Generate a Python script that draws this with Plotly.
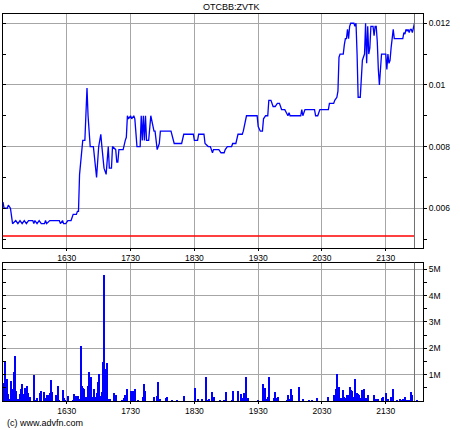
import plotly.graph_objects as go

# ---- data ----
title_text = "OTCBB:ZVTK"
prev_close = 0.0051
session_end = 1317  # minutes after midnight

price_time = [930,931,934,935,937,939,942,944,946,948,950,952,954,958,959,960,962,964,966,969,970,971,974,983,984,986,987,989,991,994,996,999,1000,1001,1002,1005,1007,1009,1010,1012,1015,1018,1020,1022,1023,1025,1027,1029,1030,1032,1033,1036,1037,1038,1039,1043,1045,1046,1047,1048,1050,1051,1053,1054,1056,1059,1060,1061,1062,1063,1064,1065,1067,1069,1072,1073,1075,1077,1078,1088,1091,1098,1100,1109,1110,1113,1114,1119,1120,1123,1125,1127,1128,1133,1135,1138,1139,1141,1145,1146,1149,1151,1155,1156,1159,1169,1170,1172,1174,1175,1177,1179,1180,1182,1184,1186,1188,1190,1192,1195,1198,1199,1200,1210,1211,1212,1214,1223,1224,1226,1228,1236,1237,1241,1242,1244,1245,1246,1247,1250,1251,1252,1253,1254,1255,1256,1257,1260,1261,1262,1263,1264,1266,1267,1268,1270,1271,1272,1273,1274,1275,1276,1278,1279,1280,1281,1282,1283,1284,1286,1290,1291,1292,1293,1294,1295,1296,1297,1298,1306,1307,1308,1309,1310,1311,1312,1313,1314,1315,1316,1317]
price = [0.0062,0.0060,0.0060,0.0061,0.0060,0.0055,0.0056,0.0055,0.0056,0.0055,0.0056,0.0055,0.0056,0.0056,0.0055,0.0056,0.0055,0.0056,0.0055,0.0055,0.0056,0.0055,0.0056,0.0056,0.0055,0.0056,0.0055,0.0055,0.0056,0.0056,0.0058,0.0058,0.0059,0.0059,0.0071,0.0082,0.0082,0.0099,0.0090,0.0080,0.0080,0.0070,0.0080,0.0084,0.0080,0.0073,0.0071,0.0080,0.0073,0.0073,0.0080,0.0079,0.0075,0.0075,0.0079,0.0079,0.0082,0.0083,0.0090,0.0089,0.0090,0.0089,0.0090,0.0089,0.0080,0.0080,0.0090,0.0082,0.0090,0.0082,0.0090,0.0082,0.0082,0.0090,0.0085,0.0085,0.0079,0.0081,0.0085,0.0085,0.0081,0.0081,0.0084,0.0084,0.0082,0.0082,0.0084,0.0084,0.0081,0.0080,0.0080,0.0078,0.0079,0.0079,0.0078,0.0078,0.0079,0.0080,0.0080,0.0081,0.0081,0.0084,0.0084,0.0085,0.0090,0.0090,0.00865,0.0085,0.0085,0.0089,0.0090,0.0090,0.0095,0.0095,0.0093,0.0093,0.0094,0.0094,0.0092,0.0092,0.0090,0.0091,0.0090,0.0090,0.0092,0.0090,0.0092,0.0092,0.0090,0.0090,0.0092,0.0092,0.0094,0.0094,0.0095,0.0096,0.0098,0.0109,0.0110,0.0110,0.0113,0.0115,0.0115,0.0118,0.0115,0.0119,0.0120,0.0120,0.0119,0.0120,0.0110,0.0096,0.0096,0.0105,0.0108,0.0110,0.0120,0.0107,0.0119,0.0110,0.0112,0.0119,0.0119,0.0116,0.0119,0.0119,0.0114,0.0105,0.0100,0.0110,0.0110,0.0105,0.0110,0.0107,0.0108,0.0112,0.0115,0.0118,0.0115,0.0115,0.0117,0.01165,0.0118,0.01175,0.0118,0.0117,0.0118,0.0118,0.0117,0.0119,0.0120]

vol_time = [931,932,933,934,935,937,938,939,940,941,942,943,944,945,946,947,948,949,950,951,952,953,954,955,959,961,962,965,966,969,970,971,972,973,974,975,976,980,982,983,986,987,988,991,996,997,999,1000,1001,1002,1003,1004,1005,1006,1007,1008,1009,1010,1011,1012,1013,1014,1015,1016,1017,1018,1019,1020,1021,1023,1024,1025,1026,1027,1028,1029,1030,1031,1034,1036,1042,1044,1045,1047,1050,1051,1052,1053,1054,1057,1062,1063,1064,1072,1075,1076,1078,1083,1084,1089,1094,1100,1111,1113,1117,1121,1122,1124,1127,1128,1134,1138,1140,1145,1146,1151,1154,1155,1157,1158,1159,1160,1170,1175,1176,1177,1178,1179,1180,1185,1186,1187,1189,1197,1198,1200,1201,1202,1208,1212,1218,1221,1225,1236,1241,1243,1244,1245,1246,1247,1249,1250,1251,1253,1254,1255,1256,1257,1258,1259,1260,1261,1262,1263,1264,1265,1267,1268,1270,1271,1273,1279,1280,1281,1282,1283,1286,1287,1290,1291,1292,1295,1296,1297,1301,1303,1305,1306,1308,1309,1310,1311,1312,1313,1314,1315,1319]
volume_m = [0.69,1.52,0.46,0.86,0.28,0.10,0.76,0.48,1.12,1.73,0.38,0.08,0.08,0.08,0.28,0.46,0.66,0.28,0.15,0.51,0.15,0.58,0.33,0.15,0.99,0.05,0.13,0.30,0.38,0.36,0.13,0.23,0.23,0.23,0.30,0.81,0.36,0.23,0.58,0.05,0.43,0.13,0.05,0.20,0.05,0.28,0.20,0.20,0.20,0.08,2.11,0.58,0.51,0.46,0.18,0.15,0.15,0.58,1.12,0.84,0.91,0.15,0.15,0.46,0.15,0.33,0.74,1.04,0.20,0.36,1.50,4.80,0.61,1.24,1.45,0.03,0.10,0.10,0.33,0.25,0.05,0.13,0.23,0.48,0.41,0.05,0.41,0.05,0.46,0.05,0.15,0.66,0.38,0.18,0.20,0.74,0.08,0.13,0.15,0.05,0.05,0.20,0.51,0.08,0.08,0.91,0.05,0.08,0.36,0.18,0.05,0.05,0.36,0.05,0.38,0.38,0.28,0.13,0.30,0.13,0.91,0.13,0.05,0.66,0.51,0.08,0.08,0.15,0.91,0.13,0.36,0.13,0.15,0.05,0.23,0.08,0.46,0.23,0.53,0.08,0.05,0.05,0.13,0.18,0.23,0.46,1.04,0.46,0.53,0.13,0.13,0.43,0.15,0.13,0.23,0.23,0.53,0.43,0.38,0.18,0.18,0.86,0.18,0.33,0.28,0.25,0.13,0.43,0.48,0.13,0.23,0.23,0.08,0.08,0.05,0.10,0.13,0.18,0.30,0.05,0.08,0.15,0.13,0.48,0.05,0.08,0.05,0.10,0.18,0.05,0.05,0.05,0.05,0.05,0.36,0.25,0.05,0.30]

x_tick_vals = [990, 1050, 1110, 1170, 1230, 1290]
x_tick_text = ["1630", "1730", "1830", "1930", "2030", "2130"]
price_tick_vals = [0.006, 0.008, 0.010, 0.012]
price_tick_text = ["0.006", "0.008", "0.01", "0.012"]
vol_tick_vals = [1e6, 2e6, 3e6, 4e6, 5e6]
vol_tick_text = ["1M", "2M", "3M", "4M", "5M"]

# ---- figure ----
FONT = "Liberation Sans, Arial, sans-serif"
GRID = "#a6a6a6"
BLUE = "#0000ff"

volume = [v * 1e6 for v in volume_m]

fig = go.Figure()
fig.add_trace(go.Scatter(x=price_time, y=price, mode="lines",
                         line=dict(color=BLUE, width=1.3), xaxis="x", yaxis="y",
                         hoverinfo="skip"))
fig.add_trace(go.Scatter(x=[price_time[0], session_end], y=[prev_close, prev_close], mode="lines",
                         line=dict(color="#ff0000", width=1.3), xaxis="x", yaxis="y",
                         hoverinfo="skip"))
fig.add_trace(go.Bar(x=vol_time, y=volume, width=1.0, marker=dict(color=BLUE, line=dict(width=0)),
                     xaxis="x2", yaxis="y2", hoverinfo="skip"))
# invisible traces to activate left-tick overlay axes
fig.add_trace(go.Scatter(x=[price_time[0]], y=[price[0]], mode="markers", opacity=0,
                         xaxis="x", yaxis="y3", hoverinfo="skip"))
fig.add_trace(go.Scatter(x=[vol_time[0]], y=[0], mode="markers", opacity=0,
                         xaxis="x2", yaxis="y4", hoverinfo="skip"))

xr = [930, 1325]
p_range = [0.00471, 0.0123]
v_range = [0, 5.25e6]
top_dom = [0.3953, 1.0]
bot_dom = [0.0, 0.3574]

common_x = dict(range=xr, tickmode="array", tickvals=x_tick_vals, ticktext=x_tick_text,
                showgrid=True, gridcolor=GRID, gridwidth=1, showline=True, linecolor="black",
                linewidth=1, mirror=True, ticks="outside", ticklen=2, tickcolor="black",
                zeroline=False, tickfont=dict(family=FONT, size=8.5, color="black"))

fig.update_layout(
    width=460, height=430,
    margin=dict(l=3, r=37, t=14, b=29),
    paper_bgcolor="white", plot_bgcolor="white",
    showlegend=False,
    bargap=0,
    xaxis=dict(domain=[0, 1], anchor="y", **common_x),
    xaxis2=dict(domain=[0, 1], anchor="y2", **common_x),
    yaxis=dict(domain=top_dom, anchor="x", side="right", range=p_range,
               tickmode="array", tickvals=price_tick_vals, ticktext=price_tick_text,
               showgrid=True, gridcolor=GRID, gridwidth=1, zeroline=False,
               showline=True, linecolor="black", linewidth=1, mirror=True,
               ticks="outside", ticklen=3, tickcolor="black",
               minor=dict(tickmode="array", tickvals=[0.005, 0.007, 0.009, 0.011],
                          ticks="outside", ticklen=3, tickcolor="black", showgrid=False),
               tickfont=dict(family=FONT, size=8.5, color="black")),
    yaxis3=dict(overlaying="y", anchor="x", side="left", range=p_range,
                tickmode="array", tickvals=[0.005, 0.006, 0.007, 0.008, 0.009, 0.010, 0.011, 0.012],
                ticks="inside", ticklen=3, tickcolor="black", showticklabels=False,
                showgrid=False, zeroline=False, showline=False),
    yaxis2=dict(domain=bot_dom, anchor="x2", side="right", range=v_range,
                tickmode="array", tickvals=vol_tick_vals, ticktext=vol_tick_text,
                showgrid=True, gridcolor=GRID, gridwidth=1, zeroline=False,
                showline=True, linecolor="black", linewidth=1, mirror=True,
                ticks="outside", ticklen=3, tickcolor="black",
                minor=dict(tickmode="array", tickvals=[0.5e6, 1.5e6, 2.5e6, 3.5e6, 4.5e6],
                           ticks="outside", ticklen=3, tickcolor="black", showgrid=False),
                tickfont=dict(family=FONT, size=8.5, color="black")),
    yaxis4=dict(overlaying="y2", anchor="x2", side="left", range=v_range,
                tickmode="array", tickvals=[0.5e6 * i for i in range(1, 11)],
                ticks="inside", ticklen=3, tickcolor="black", showticklabels=False,
                showgrid=False, zeroline=False, showline=False),
    annotations=[
        dict(text=title_text, xref="paper", yref="paper", x=0.543, y=1.018,
             xanchor="center", yanchor="middle", showarrow=False,
             font=dict(family=FONT, size=9, color="black")),
        dict(text="(c) www.advfn.com", xref="paper", yref="paper", x=0.005, y=-0.057,
             xanchor="left", yanchor="middle", showarrow=False,
             font=dict(family=FONT, size=9, color="black")),
    ],
    shapes=[
        dict(type="line", xref="x", yref="y domain", x0=session_end, x1=session_end, y0=0, y1=1,
             line=dict(color="#707070", width=1)),
        dict(type="line", xref="x2", yref="y2 domain", x0=session_end, x1=session_end, y0=0, y1=1,
             line=dict(color="#707070", width=1)),
    ],
)

fig.write_html("out.html", config={"displayModeBar": False},
               post_script="document.body.style.margin='0';document.body.style.overflow='hidden';")
